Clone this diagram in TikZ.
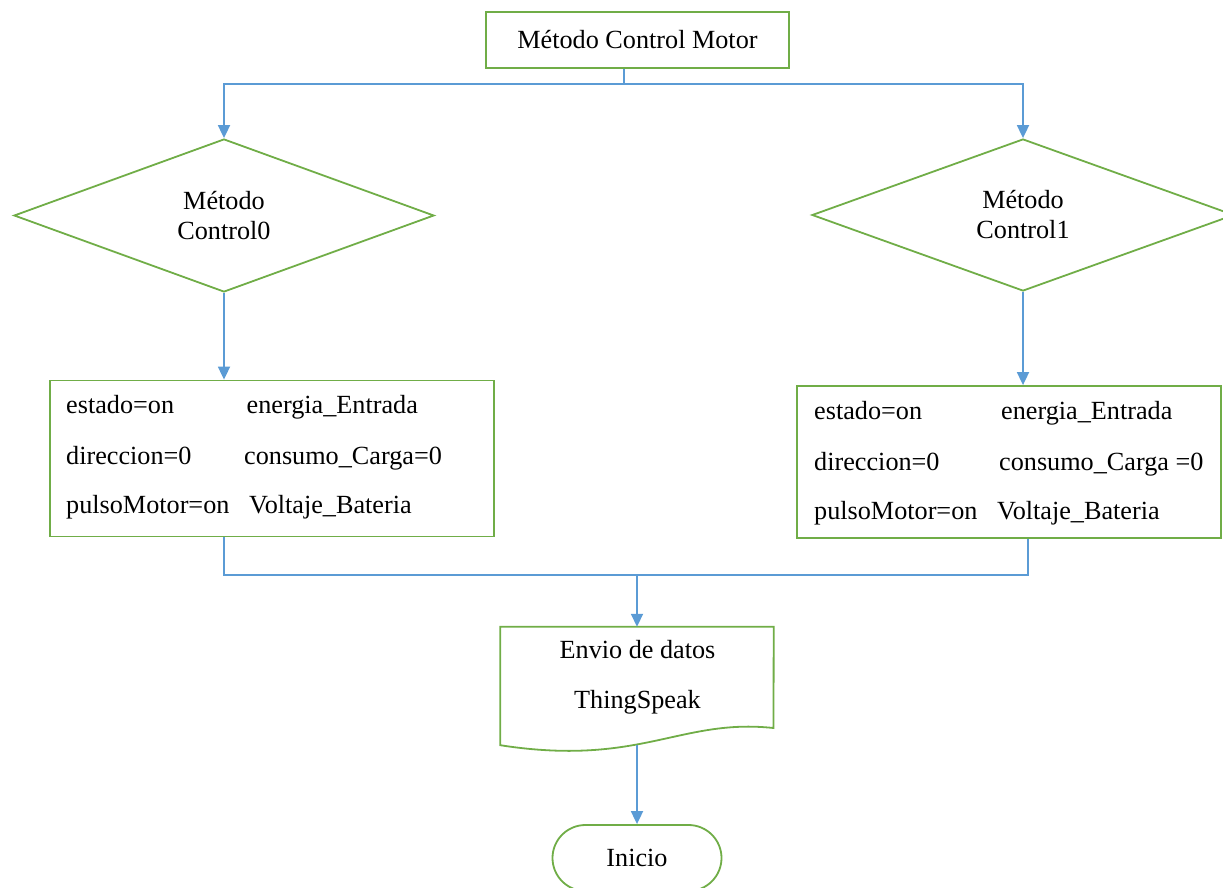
\documentclass[tikz,border=0pt]{standalone}
\usepackage{fontspec}
\setmainfont{Liberation Serif}
\usetikzlibrary{shapes.geometric,arrows.meta}
\definecolor{boxgreen}{HTML}{70AD47}
\definecolor{linkblue}{HTML}{5B9BD5}
\begin{document}
\begin{tikzpicture}[x=1pt,y=-1pt,
  every node/.style={font=\fontsize{26.2}{30}\selectfont, text=black},
  stepbox/.style={draw=boxgreen, line width=1.8pt, rectangle, inner sep=0pt},
  decision/.style={draw=boxgreen, line width=1.8pt, diamond, aspect=2.7, inner sep=0pt, align=center},
  docline/.style={draw=boxgreen, line width=1.8pt},
  conn/.style={draw=linkblue, line width=1.8pt},
  arr/.style={conn, -{Triangle[length=13pt,width=12pt]}},
  cell/.style={anchor=base west, inner sep=0pt}
]
\useasboundingbox (0,0) rectangle (1223,888);

% main process box
\node[stepbox, minimum width=303pt, minimum height=56pt] (top) at (637.5,40) {Método Control Motor};

% the two control branches
\node[decision, minimum width=420pt, minimum height=153pt] (d0) at (224,215.5) {Método\\Control0};
\node[decision, minimum width=422pt, minimum height=152pt] (d1) at (1023,215) {Método\\Control1};

% variable boxes
\node[stepbox, minimum width=444pt, minimum height=156pt] (b0) at (272,458.5) {};
\node[stepbox, minimum width=424pt, minimum height=152pt] (b1) at (1009,462) {};

\node[cell] (b0a1) at (66,413) {estado=on};
\node[cell] (b0a2) at (66,464) {direccion=0};
\node[cell] (b0a3) at (66,513) {pulsoMotor=on};
\node[cell] (b0b1) at (246.5,413) {energia\_Entrada};
\node[cell] (b0b2) at (244,464) {consumo\_Carga=0};
\node[cell] (b0b3) at (249,513) {Voltaje\_Bateria};

\node[cell] (b1a1) at (814,419) {estado=on};
\node[cell] (b1a2) at (814,470) {direccion=0};
\node[cell] (b1a3) at (814,519) {pulsoMotor=on};
\node[cell] (b1b1) at (1001,419) {energia\_Entrada};
\node[cell] (b1b2) at (999,470) {consumo\_Carga =0};
\node[cell] (b1b3) at (997,519) {Voltaje\_Bateria};

% document shape for sending data
\node[minimum width=273pt, minimum height=118pt, inner sep=0pt] (doc) at (637,686) {};
\draw[docline] (doc.north west) -- (doc.north east) -- (773.5,728)
  .. controls (680,718) and (640,767) .. (doc.south west) -- cycle;
\node[align=center, inner sep=0pt] (doctext) at (637.5,677) {Envio de datos\\[20pt]ThingSpeak};

% terminal
\node[stepbox, rounded corners=33pt, minimum width=169pt, minimum height=66pt] (ini) at (637,858) {Inicio};

% connectors
\coordinate (split) at (624,84);
\draw[conn] (top.south -| split) -- (split);
\draw[arr] (split) -| (d0.north);
\draw[arr] (split) -| (d1.north);

\draw[arr] (d0.south) -- (d0.south |- b0.north);
\draw[arr] (d1.south) -- (d1.south |- b1.north);

\coordinate (merge) at (637,575);
\coordinate (rjoin) at (1028,575);
\draw[conn] (d0.south |- b0.south) |- (merge);
\draw[conn] (b1.south -| rjoin) -- (rjoin) -- (merge);
\draw[arr] (merge) -- (doc.north);

\draw[arr] (doc.south) -- (ini.north);
\end{tikzpicture}
\end{document}
